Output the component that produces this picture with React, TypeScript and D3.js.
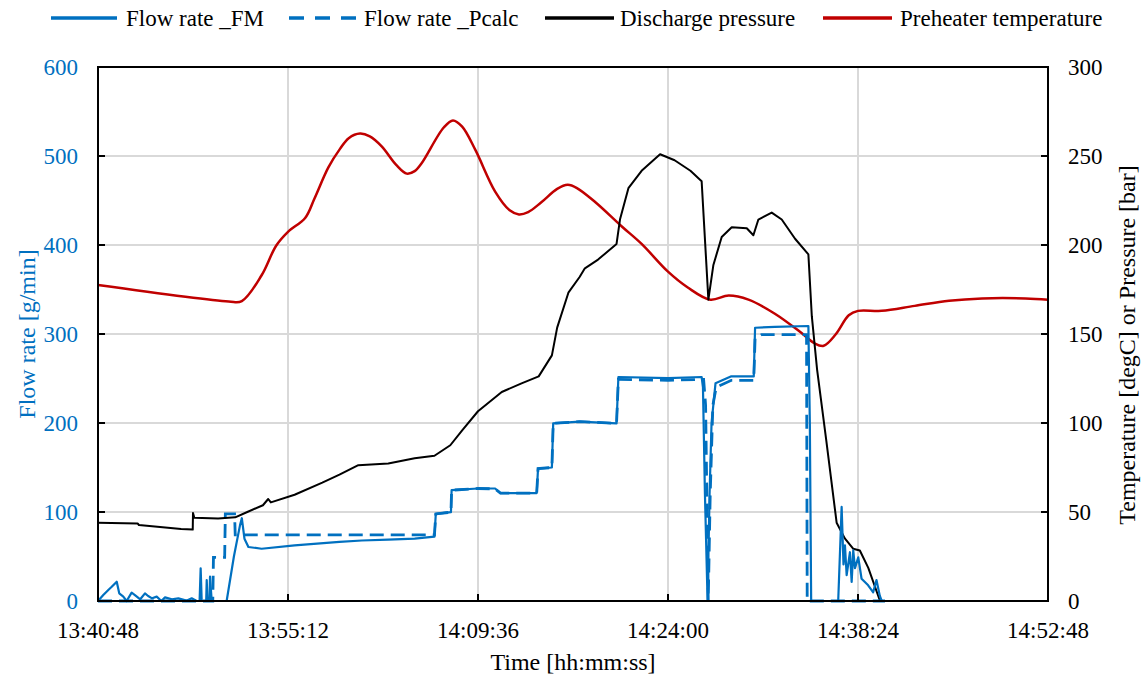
import React from 'react';
import * as d3 from 'd3';

// ---- Data (time = minutes elapsed since 13:40:48) ----
const START_SECONDS = 13 * 3600 + 40 * 60 + 48;
const xTickMinutes = [0, 14.4, 28.8, 43.2, 57.6, 72];
const flowTicks = [0, 100, 200, 300, 400, 500, 600];
const tempTicks = [0, 50, 100, 150, 200, 250, 300];

const legendLabels = ['Flow rate _FM', 'Flow rate _Pcalc', 'Discharge pressure', 'Preheater temperature'];

const fmTime = [0, 0.4, 0.78, 1.04, 1.42, 1.61, 1.92, 2.17, 2.55, 2.8, 3.2, 3.56, 3.8, 4.1, 4.45, 4.8, 5.08, 5.6, 6.09, 6.7, 7.1, 7.48, 7.7, 7.78, 7.86, 8.2, 8.24, 8.3, 8.45, 8.49, 8.62, 9.75, 10.3, 10.76, 10.9, 11.1, 11.4, 12.4, 14.9, 18.3, 20, 22, 24, 25.5, 25.6, 26.75, 26.8, 28.8, 30.1, 30.5, 33.25, 33.35, 34.4, 34.5, 36.5, 39.3, 39.44, 43.2, 45.75, 45.85, 46.0, 46.2, 46.35, 46.5, 46.8, 48.0, 49.7, 49.8, 51.3, 53.84, 53.95, 54.05, 56.1, 56.36, 56.5, 56.61, 56.74, 56.99, 57.12, 57.24, 57.37, 57.62, 57.87, 58.37, 58.75, 59.0, 59.25, 59.4, 59.65];
const fmFlow = [0, 6.7, 12.4, 16, 21.7, 8.6, 4.9, 0, 9.4, 6.7, 1.9, 8.6, 5.6, 3, 4.9, 0, 4.1, 1.9, 3, 0.4, 3, 0, 0, 36.7, 0, 0, 23.6, 0, 0, 27.3, 0, 0, 50, 85, 93, 70, 60.7, 58.7, 62.6, 66.5, 68, 69, 70, 72.4, 97.8, 99.8, 124.5, 126.4, 126.4, 121.3, 121.3, 148.7, 150, 199.6, 201.6, 199.6, 251.7, 250.5, 251.7, 240, 120, 0, 120, 200, 244.6, 252.4, 252.4, 307, 308, 309, 200, 0, 0, 105.7, 41, 62.6, 29, 54.8, 21.5, 56.8, 37, 49, 25, 17.6, 9.8, 23.5, 5.9, 0, 0];

const pcTime = [0, 8.7, 8.75, 9.6, 9.65, 10.35, 10.4, 25.5, 25.6, 26.75, 26.8, 28.8, 30.1, 30.5, 33.25, 33.35, 34.4, 34.5, 36.5, 39.3, 39.44, 43.2, 45.9, 46.05, 46.25, 46.4, 46.6, 46.85, 48.0, 49.7, 49.8, 50.3, 53.7, 53.75, 59.65];
const pcFlow = [0, 0, 49, 49, 98, 98, 74.4, 74.4, 97.8, 99.8, 124.5, 126.4, 126, 121.3, 121.3, 148.7, 150, 199.6, 201.6, 199.6, 249, 248, 249, 220, 0, 120, 220, 240, 248, 248, 295, 299.4, 299.4, 0, 0];

const prTime = [0, 3.0, 3.1, 6.3, 7.18, 7.2, 7.3, 9.1, 10.4, 11.4, 12.5, 12.9, 13.1, 14.9, 17.0, 18.3, 19.73, 22.0, 24.0, 25.5, 26.7, 27.6, 28.8, 30.6, 32.1, 33.4, 34.4, 34.8, 35.65, 36.5, 36.9, 37.9, 39.3, 39.56, 40.2, 41.2, 42.6, 43.7, 44.9, 45.75, 46.26, 46.64, 47.27, 48.03, 49.17, 49.67, 50.05, 51.06, 51.82, 52.83, 53.84, 54.1, 54.5, 55.2, 55.98, 56.6, 57.23, 57.74, 58.38, 59.27];
const prValue = [44, 43.6, 42.7, 40.5, 40.1, 49.5, 46.8, 46.4, 47, 50.3, 53.8, 57.3, 55.4, 59.7, 66.5, 71, 76.3, 77.3, 80.2, 81.6, 87.5, 95.9, 106.6, 117.4, 122.3, 126.2, 138, 153.6, 173.2, 182, 186.9, 191.8, 200.6, 214.3, 231.9, 241.7, 251, 247.6, 241.7, 235.8, 169.3, 188.8, 204.5, 210, 209.4, 205.5, 214.3, 218.2, 214.3, 203.5, 194.7, 160, 130, 90, 44, 35.2, 29.4, 28.4, 18.6, 0];

const tpTime = [0, 9.9, 10.9, 12.4, 13.5, 14.4, 15.7, 16.4, 17.46, 18.34, 19.0, 19.86, 20.6, 21.5, 22.6, 23.4, 24.0, 24.5, 26.2, 26.9, 27.6, 28.6, 30.1, 31.2, 31.9, 32.6, 33.6, 34.8, 35.6, 36.3, 37.7, 39.7, 41.2, 43.2, 44.7, 46.4, 47.8, 49.3, 51.3, 53.3, 54.3, 55.0, 55.9, 56.9, 57.6, 59.4, 61.9, 64.5, 67.0, 70.3, 72];
const tpValue = [177.5, 168.3, 168.5, 183, 199.6, 207.4, 215.2, 226, 243.6, 254, 260, 262.6, 261, 255.4, 245, 240.1, 241.5, 245.6, 266, 270, 266.5, 253.4, 230, 219.5, 217.2, 218.5, 224, 231.5, 233.8, 232, 224, 210.4, 200.6, 185, 176.1, 169.3, 171.6, 169.3, 161.4, 150.7, 144.8, 143.4, 149.7, 160.5, 163, 163, 165.8, 168.7, 170, 170, 169.3];

// ---- Styling ----
const BLUE = '#0070C0';
const RED = '#C00000';
const GRID = '#D9D9D9';
const FONT = "'Liberation Serif', 'Times New Roman', Times, serif";

const W = 1141;
const H = 681;
const PL = 98;
const PR = 1048;
const PT = 67;
const PB = 601;

function toClock(m: number): string {
  const s = Math.round(START_SECONDS + m * 60);
  const hh = Math.floor(s / 3600);
  const mm = Math.floor((s % 3600) / 60);
  const ss = s % 60;
  const p = (n: number) => String(n).padStart(2, '0');
  return `${p(hh)}:${p(mm)}:${p(ss)}`;
}

const zip = (a: number[], b: number[]) => a.map((t, i) => [t, b[i]] as [number, number]);

export default function App() {
  const x = d3.scaleLinear().domain([0, 72]).range([PL, PR]);
  const yL = d3.scaleLinear().domain([0, 600]).range([PB, PT]);
  const yR = d3.scaleLinear().domain([0, 300]).range([PB, PT]);

  const lineL = d3.line<[number, number]>().x(d => x(d[0])).y(d => yL(d[1]));
  const lineR = d3.line<[number, number]>().x(d => x(d[0])).y(d => yR(d[1]));
  const lineSmooth = d3.line<[number, number]>().x(d => x(d[0])).y(d => yR(d[1])).curve(d3.curveCatmullRom.alpha(0.5));

  const fs = 23;
  const ts: React.CSSProperties = { fontFamily: FONT };

  const legendItems = [
    { x1: 51, x2: 117, tx: 126, color: BLUE, dash: undefined as string | undefined },
    { x1: 289, x2: 358, tx: 364, color: BLUE, dash: '15,11' },
    { x1: 545, x2: 614, tx: 620, color: '#000', dash: undefined },
    { x1: 823, x2: 892, tx: 900, color: RED, dash: undefined },
  ];

  return (
    <svg width={W} height={H} style={{ position: 'absolute', left: 0, top: 0, background: '#fff' }}>
      <rect x={0} y={0} width={W} height={H} fill="#fff" />
      {/* gridlines */}
      {flowTicks.map(v => (
        <line key={'hg' + v} x1={PL} x2={PR} y1={yL(v)} y2={yL(v)} stroke={GRID} strokeWidth={2} />
      ))}
      {xTickMinutes.map(m => (
        <line key={'vg' + m} x1={x(m)} x2={x(m)} y1={PT} y2={PB} stroke={GRID} strokeWidth={2} />
      ))}

      {/* series */}
      <path d={lineSmooth(zip(tpTime, tpValue)) || ''} fill="none" stroke={RED} strokeWidth={2.5} />
      <path d={lineR(zip(prTime, prValue)) || ''} fill="none" stroke="#000" strokeWidth={2} strokeLinejoin="round" />
      <path d={lineL(zip(pcTime, pcFlow)) || ''} fill="none" stroke={BLUE} strokeWidth={2.8} strokeDasharray="14,7" />
      <path d={lineL(zip(fmTime, fmFlow)) || ''} fill="none" stroke={BLUE} strokeWidth={2.2} strokeLinejoin="round" />

      {/* frame */}
      <rect x={PL} y={PT} width={PR - PL} height={PB - PT} fill="none" stroke="#000" strokeWidth={2} />

      {/* ticks */}
      {flowTicks.map(v => (
        <line key={'lt' + v} x1={PL} x2={PL + 7} y1={yL(v)} y2={yL(v)} stroke="#000" strokeWidth={2} />
      ))}
      {tempTicks.map(v => (
        <line key={'rt' + v} x1={PR - 7} x2={PR} y1={yR(v)} y2={yR(v)} stroke="#000" strokeWidth={2} />
      ))}
      {xTickMinutes.map(m => (
        <line key={'bt' + m} x1={x(m)} x2={x(m)} y1={PB} y2={PB - 7} stroke="#000" strokeWidth={2} />
      ))}

      {/* tick labels */}
      {flowTicks.map(v => (
        <text key={'ll' + v} x={78} y={yL(v)} dy="0.35em" textAnchor="end" fontSize={fs} fill={BLUE} style={ts}>{v}</text>
      ))}
      {tempTicks.map(v => (
        <text key={'rl' + v} x={1068} y={yR(v)} dy="0.35em" textAnchor="start" fontSize={fs} fill="#000" style={ts}>{v}</text>
      ))}
      {xTickMinutes.map(m => (
        <text key={'bl' + m} x={x(m)} y={638} textAnchor="middle" fontSize={fs} fill="#000" style={ts}>{toClock(m)}</text>
      ))}

      {/* axis titles */}
      <text x={(PL + PR) / 2} y={670} textAnchor="middle" fontSize={24} fill="#000" style={ts}>Time [hh:mm:ss]</text>
      <text transform={`translate(27,${(PT + PB) / 2}) rotate(-90)`} dy="0.35em" textAnchor="middle" fontSize={24} fill={BLUE} style={ts}>Flow rate [g/min]</text>
      <text transform={`translate(1127,345) rotate(-90)`} dy="0.35em" textAnchor="middle" fontSize={24} fill="#000" style={ts}>Temperature [degC] or Pressure [bar]</text>

      {/* legend */}
      {legendItems.map((it, i) => (
        <g key={'lg' + i}>
          <line x1={it.x1} x2={it.x2} y1={18} y2={18} stroke={it.color} strokeWidth={3.5} strokeDasharray={it.dash} />
          <text x={it.tx} y={18} dy="0.35em" fontSize={fs} fill="#000" style={ts}>{legendLabels[i]}</text>
        </g>
      ))}
    </svg>
  );
}
